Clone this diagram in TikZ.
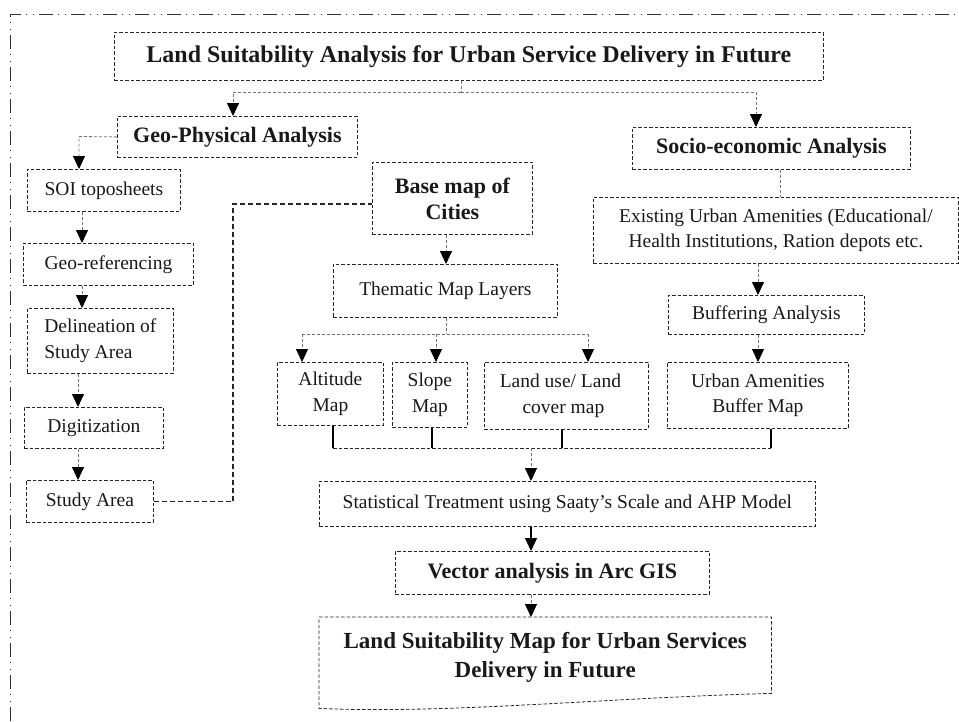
\documentclass[tikz,border=0pt]{standalone}
\usepackage{fontspec}
\setmainfont{Liberation Serif}
\usetikzlibrary{arrows.meta}
\newcommand\fsnorm{\fontsize{19.5}{25.5}\selectfont}
\newcommand\fshead{\fontsize{22}{26}\selectfont\bfseries}
\newcommand\fstitle{\fontsize{24}{28}\selectfont\bfseries}
\newcommand\fsbig{\fontsize{23}{29}\selectfont\bfseries}
\begin{document}
\begin{tikzpicture}[x=1pt,y=-1pt,
  boxline/.style={draw=black!85, line width=0.8pt, dash pattern=on 3.5pt off 2pt},
  box/.style={boxline, rectangle, inner sep=0pt, align=center, anchor=north west, font=\fsnorm, text=black!90},
  hbox/.style={box, font=\fshead},
  conn/.style={draw=black!55, line width=0.8pt, dash pattern=on 3pt off 2pt},
  arr/.style={-{Triangle[length=13pt,width=12pt,color=black,fill=black]}},
  dconn/.style={draw=black!85, line width=1.1pt, dash pattern=on 5pt off 3pt},
  hline/.style={draw=black!85, line width=0.9pt, dash pattern=on 3.5pt off 2pt},
  stub/.style={draw=black, line width=1.3pt},
  sarr/.style={draw=black, line width=1.2pt},
  frame/.style={draw=black!80, line width=1pt, dash pattern=on 14pt off 5pt on 1pt off 6pt on 1pt off 5pt}
]
\useasboundingbox (0,0) rectangle (959,721);
% outer frame
\draw[frame] (10,721) -- (10,14) -- (959,14);

% nodes
\node[box, font=\fstitle, minimum width=709pt, minimum height=48pt] (title) at (114,32) {Land Suitability Analysis for Urban Service Delivery in Future};
\node[hbox, minimum width=240pt, minimum height=41pt] (geo) at (117,116) {Geo-Physical Analysis};
\node[hbox, minimum width=278pt, minimum height=42pt] (socio) at (632,127) {Socio-economic Analysis};
\node[box, minimum width=153pt, minimum height=42pt] (soi) at (27,169) {SOI toposheets};
\node[box, minimum width=170pt, minimum height=42pt] (georef) at (23,243) {Geo-referencing};
\node[box, align=left, minimum width=146pt, minimum height=65pt] (delin) at (27,308) {Delineation of\\Study Area};
\node[box, minimum width=139pt, minimum height=41pt] (digit) at (24,407) {Digitization};
\node[box, minimum width=127pt, minimum height=42pt] (study) at (26,480) {Study Area};
\node[hbox, minimum width=160pt, minimum height=72pt] (base) at (372,162) {Base map of\\Cities};
\node[box, minimum width=224pt, minimum height=53pt] (them) at (333,264) {Thematic Map Layers};
\node[box, minimum width=106pt, minimum height=63pt] (alt) at (277,362) {Altitude\\Map};
\node[box, minimum width=75pt, minimum height=65pt] (slope) at (392,362) {Slope\\Map};
\node[box, minimum width=164pt, minimum height=67pt] (land) at (484,362) {Land use/ Land\hspace*{12pt}\\cover map\hspace*{6pt}};
\node[box, minimum width=181pt, minimum height=66pt] (ubm) at (667,362) {Urban Amenities\\Buffer Map};
\node[box, minimum width=196pt, minimum height=39pt] (buff) at (668,295) {Buffering Analysis};
\node[box, minimum width=365pt, minimum height=66pt] (exist) at (593,197) {Existing Urban Amenities (Educational/\\Health Institutions, Ration depots etc.};
\node[box, minimum width=496pt, minimum height=45pt] (stat) at (319,481) {Statistical Treatment using Saaty’s Scale and AHP Model};
\node[hbox, minimum width=314pt, minimum height=43pt] (vec) at (395,551) {Vector analysis in Arc GIS};
\node[anchor=north west, inner sep=0pt, align=center, font=\fsbig, text=black!90, minimum width=452pt, minimum height=80pt] (lsm) at (319,617) {Land Suitability Map for Urban Services\\Delivery in Future};
\draw[boxline] (lsm.north west) -- (lsm.north east) -- ([yshift=4pt]lsm.south east)
  .. controls (600,698) and (450,714) .. ([yshift=-11pt]lsm.south west) -- cycle;

% coordinates
\coordinate (jt) at (461,92);
\coordinate (j1) at (233,92);
\coordinate (j2) at (756,92);
\coordinate (j3) at (79,136.5);
\coordinate (c1) at (82,0);
\coordinate (c2) at (78,0);
\coordinate (j4) at (233,204);
\coordinate (c3) at (446,0);
\coordinate (j5) at (446,334);
\coordinate (a1) at (302,334);
\coordinate (a2) at (436,334);
\coordinate (a3) at (588,334);
\coordinate (c4) at (780,0);
\coordinate (c5) at (758,0);
\coordinate (s1) at (333,448);
\coordinate (s2) at (432,448);
\coordinate (s3) at (562,448);
\coordinate (s4) at (771,448);
\coordinate (s5) at (531,448);

% connectors
\draw[conn] (title.south -| jt) -- (jt);
\draw[conn,arr] (jt) -- (j1) -- (geo.north -| j1);
\draw[conn,arr] (jt) -- (j2) -- (socio.north -| j2);
\draw[conn,arr] (geo.west) -- (j3) -- (soi.north -| j3);
\draw[conn,arr] (soi.south -| c1) -- (georef.north -| c1);
\draw[conn,arr] (georef.south -| c1) -- (delin.north -| c1);
\draw[conn,arr] (delin.south -| c2) -- (digit.north -| c2);
\draw[conn,arr] (digit.south -| c2) -- (study.north -| c2);
\draw[dconn] (study.east) -| (j4) -- (base.west |- j4);
\draw[conn,arr] (base.south -| c3) -- (them.north -| c3);
\draw[conn] (them.south -| c3) -- (j5);
\draw[conn] (a1) -- (a3);
\draw[conn,arr] (a1) -- (alt.north -| a1);
\draw[conn,arr] (a2) -- (slope.north -| a2);
\draw[conn,arr] (a3) -- (land.north -| a3);
\draw[conn] (socio.south -| c4) -- (exist.north -| c4);
\draw[conn,arr] (exist.south -| c5) -- (buff.north -| c5);
\draw[conn,arr] (buff.south -| c5) -- (ubm.north -| c5);
\draw[hline] (s1) -- (s4);
\draw[stub] (alt.south -| s1) -- (s1);
\draw[stub] (slope.south -| s2) -- (s2);
\draw[stub] (land.south -| s3) -- (s3);
\draw[stub] (ubm.south -| s4) -- (s4);
\draw[conn,arr] (s5) -- (stat.north -| s5);
\draw[sarr,arr] (stat.south -| s5) -- (vec.north -| s5);
\draw[conn,arr] (vec.south -| s5) -- (lsm.north -| s5);
\end{tikzpicture}
\end{document}
